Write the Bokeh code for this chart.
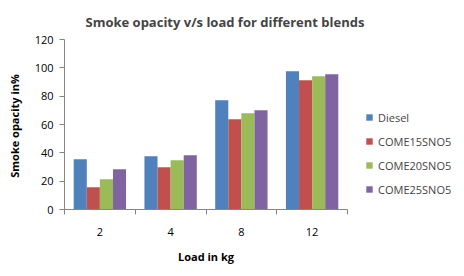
from bokeh.plotting import figure
from bokeh.models import ColumnDataSource, FixedTicker, Legend, LegendItem, Range1d, Title
from bokeh.embed import file_html
from bokeh.resources import INLINE

loads = ["2", "4", "8", "12"]
series = ["Diesel", "COME15SNO5", "COME20SNO5", "COME25SNO5"]
diesel = [35.5, 37.6, 77.1, 97.6]
come15 = [15.7, 29.9, 63.7, 91.3]
come20 = [21.3, 34.8, 68.0, 94.1]
come25 = [28.4, 38.3, 70.1, 95.5]
colors = ["#4F81BD", "#C0504D", "#9BBB59", "#8064A2"]
y_ticks = [0, 20, 40, 60, 80, 100, 120]

FONT = "Open Sans"
values = [diesel, come15, come20, come25]

p = figure(frame_width=283, frame_height=170, output_backend="svg", toolbar_location=None,
           x_range=Range1d(0, len(loads)), y_range=Range1d(0, 120),
           min_border_left=64, min_border_right=117, min_border_top=39, min_border_bottom=67)
p.outline_line_color = None
p.xgrid.visible = False
p.ygrid.visible = False
p.background_fill_color = "white"
p.border_fill_color = "white"

bw = 0.185
items = []
for k, (name, vals, col) in enumerate(zip(series, values, colors)):
    xs = [i + 0.5 + (k - 1.5) * bw for i in range(len(loads))]
    src = ColumnDataSource(dict(x=xs, top=vals))
    r = p.vbar(x="x", top="top", bottom=0, width=bw, source=src,
               fill_color=col, line_color=None)
    items.append(LegendItem(label=name, renderers=[r]))

centers = [i + 0.5 for i in range(len(loads))]
p.xaxis.ticker = FixedTicker(ticks=centers, minor_ticks=list(range(len(loads) + 1)))
p.xaxis.major_label_overrides = {c: l for c, l in zip(centers, loads)}
p.xaxis.major_tick_line_color = None
p.xaxis.minor_tick_out = 5
p.xaxis.minor_tick_in = 0
p.xaxis.minor_tick_line_color = "#868686"
p.xaxis.axis_line_color = "#868686"
p.xaxis.major_label_standoff = 12
p.xaxis.axis_label = "Load in kg"
p.xaxis.axis_label_standoff = 10

p.yaxis.ticker = FixedTicker(ticks=y_ticks)
p.yaxis.major_tick_out = 5
p.yaxis.major_tick_in = 0
p.yaxis.minor_tick_line_color = None
p.yaxis.major_tick_line_color = "#868686"
p.yaxis.axis_line_color = "#868686"
p.yaxis.major_label_standoff = 6
p.yaxis.axis_label = "Smoke opacity  in%"
p.yaxis.axis_label_standoff = 10

for ax in (p.xaxis[0], p.yaxis[0]):
    ax.major_label_text_font = FONT
    ax.major_label_text_font_size = "11px"
    ax.major_label_text_color = "black"
    ax.axis_label_text_font = FONT
    ax.axis_label_text_font_size = "11px"
    ax.axis_label_text_font_style = "bold"
    ax.axis_label_text_color = "black"

p.title = Title(text="Smoke opacity v/s load for different blends", align="left",
                text_font=FONT, text_font_size="13px", text_font_style="bold",
                offset=21, standoff=18)

legend = Legend(items=items, location=(18, 10), border_line_color=None,
                label_text_font=FONT, label_text_font_size="11px",
                glyph_width=8, glyph_height=8, label_height=20, spacing=4,
                padding=0, margin=0, label_standoff=5,
                background_fill_alpha=0)
p.add_layout(legend, "right")

open("out.html", "w").write(file_html(p, INLINE))
